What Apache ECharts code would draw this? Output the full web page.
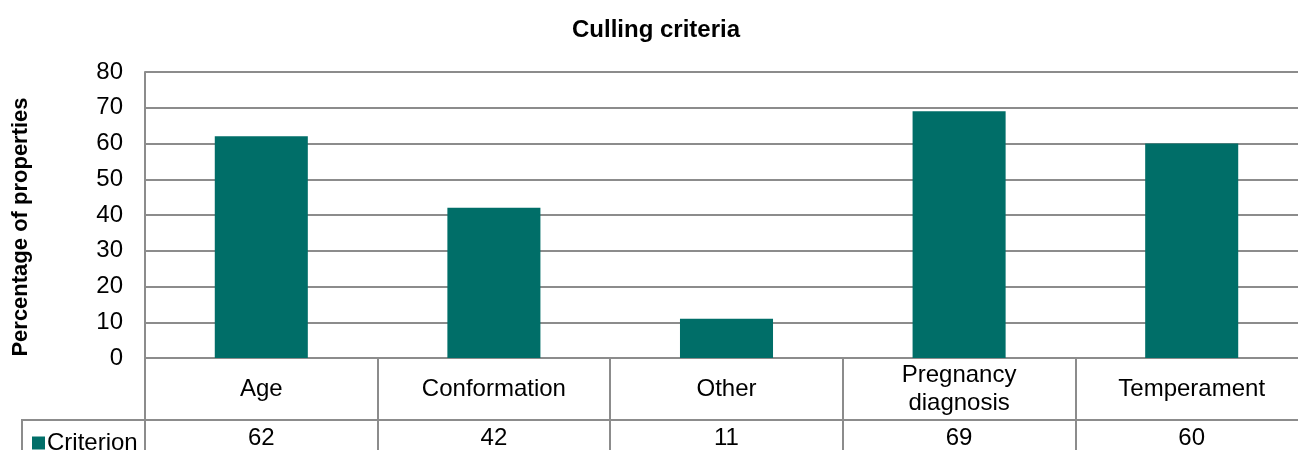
<!DOCTYPE html>
<html>
<head>
<meta charset="utf-8">
<script src="https://cdn.jsdelivr.net/npm/echarts@6/dist/echarts.min.js"></script>
<style>
  html, body { margin: 0; padding: 0; background: #fff; overflow: hidden; }
  #chart { width: 1312px; height: 450px; }
</style>
</head>
<body>
<div id="chart"></div>
<script>
const categories = ['Age', 'Conformation', 'Other', 'Pregnancy\ndiagnosis', 'Temperament']
const criterion = [62, 42, 11, 69, 60]
const yTicks = { min: 0, max: 80, step: 10 }

const FONT = '"Liberation Sans", Arial, sans-serif'
const GRID_COLOR = '#8c8c8c'
const BAR_COLOR = '#006e68'

// the plot runs a little past the right edge of the window, like the original
const chart = echarts.init(document.getElementById('chart'))
chart.setOption({
  animation: false,
  textStyle: { fontFamily: FONT, color: '#000' },
  title: {
    text: 'Culling criteria',
    left: 651,
    top: 13,
    textAlign: 'center',
    textStyle: { fontFamily: FONT, fontSize: 24, fontWeight: 'bold', color: '#000' },
  },
  legend: {
    data: ['Criterion'],
    left: 27,
    top: 426,
    icon: 'rect',
    itemWidth: 13,
    itemHeight: 13,
    itemGap: 5,
    textStyle: { fontFamily: FONT, fontSize: 24, color: '#000', padding: [0, 0, 0, -3] },
  },
  grid: { left: 145, top: 72, width: 1163, height: 286 },
  xAxis: [
    {
      type: 'category',
      data: categories,
      axisLine: { lineStyle: { color: GRID_COLOR, width: 2 } },
      axisTick: { show: true, length: 95, interval: 0, lineStyle: { color: GRID_COLOR, width: 2 } },
      axisLabel: {
        interval: 0,
        margin: 31,
        verticalAlign: 'middle',
        fontFamily: FONT,
        fontSize: 24,
        lineHeight: 28,
        color: '#000',
      },
    },
    {
      type: 'category',
      position: 'bottom',
      offset: 62,
      data: criterion.map(String),
      axisLine: { lineStyle: { color: GRID_COLOR, width: 2 } },
      axisTick: { show: false },
      axisLabel: {
        interval: 0,
        margin: 18,
        verticalAlign: 'middle',
        fontFamily: FONT,
        fontSize: 24,
        color: '#000',
      },
    },
  ],
  yAxis: {
    type: 'value',
    min: yTicks.min,
    max: yTicks.max,
    interval: yTicks.step,
    name: 'Percentage of properties',
    nameLocation: 'middle',
    nameGap: 113,
    nameTextStyle: {
      fontFamily: FONT, fontSize: 22, fontWeight: 'bold', color: '#000',
      padding: [0, 24, 0, 0],
    },
    axisLine: { show: true, lineStyle: { color: GRID_COLOR, width: 2 } },
    axisTick: { show: false },
    axisLabel: { margin: 22, fontFamily: FONT, fontSize: 24, color: '#000' },
    splitLine: { lineStyle: { color: GRID_COLOR, width: 2 } },
  },
  graphic: [
    {
      type: 'polyline',
      shape: { points: [[22, 451], [22, 420], [145, 420]] },
      style: { stroke: GRID_COLOR, lineWidth: 2, fill: null },
    },
  ],
  series: [
    {
      name: 'Criterion',
      type: 'bar',
      data: criterion,
      barWidth: '40%',
      itemStyle: { color: BAR_COLOR },
    },
  ],
})
</script>
</body>
</html>
